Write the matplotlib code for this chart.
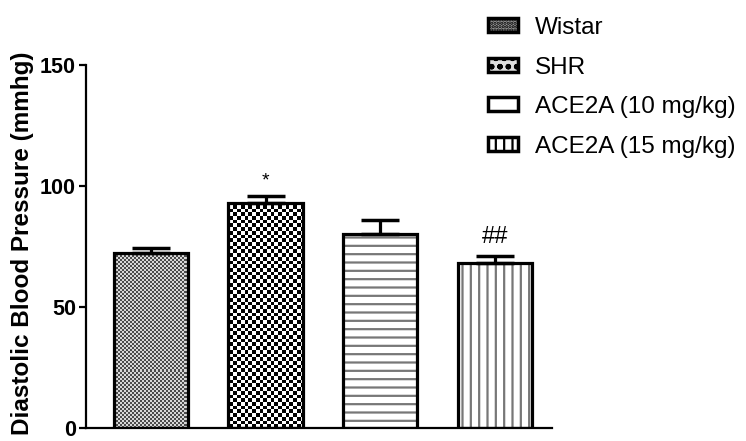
import matplotlib
matplotlib.use("Agg")
import matplotlib.pyplot as plt
import matplotlib.patches as mpatches
import numpy as np

plt.rcParams['font.family'] = ['Liberation Sans', 'DejaVu Sans']
plt.rcParams['hatch.linewidth'] = 1.6

groups = ["Wistar", "SHR", "ACE2A (10 mg/kg)", "ACE2A (15 mg/kg)"]
means = [72.3, 93.0, 80.2, 68.2]
errs = [2.1, 2.9, 5.8, 2.8]
marks = ["", "*", "", "##"]


def checker(nx, ny, c1, c2):
    a = (np.add.outer(np.arange(ny), np.arange(nx)) % 2).astype(float)
    img = np.zeros((ny, nx, 3))
    img[a == 0] = c1
    img[a == 1] = c2
    return img


fig = plt.figure(figsize=(7.46, 4.41), dpi=100)
ax = fig.add_axes([0.115, 0.0295, 0.625, 0.8235])

x = np.arange(len(groups))
bars = ax.bar(x, means, width=0.65, facecolor="none", edgecolor="black",
              linewidth=2.3, zorder=3)

# fill patterns: fine grey checker, coarse black checker, horizontal, vertical lines
fine = checker(233, 181, (0.3, 0.3, 0.3), (0.85, 0.85, 0.85))
coarse = checker(126, 98, (0.0, 0.0, 0.0), (1.0, 1.0, 1.0))
for b, img in [(bars[0], fine), (bars[1], coarse)]:
    im = ax.imshow(img, extent=(0, 1, 0, 1), transform=ax.transAxes,
                   aspect="auto", interpolation="nearest", zorder=2)
    im.set_clip_path(b)

hatches = ["", "", "--", "||"]
for xi, m, h in zip(x, means, hatches):
    if h:
        ax.bar(xi, m, width=0.65, facecolor="white", edgecolor="#777777",
               hatch=h, linewidth=0, zorder=2)

ax.errorbar(x, means, yerr=[np.zeros(len(errs)), errs], fmt="none",
            ecolor="black", elinewidth=2.3, capsize=13.5, capthick=2.5, zorder=4)

for xi, m, e, t in zip(x, means, errs, marks):
    if t == "*":
        ax.text(xi, m + e + 6, t, ha="center", va="center", fontsize=14)
    elif t:
        ax.text(xi, m + e + 8, t, ha="center", va="center", fontsize=17)

ax.set_xlim(-0.57, 3.5)
ax.set_ylim(0, 150)
ax.set_yticks([0, 50, 100, 150])
ax.set_xticks([])
for s in ["top", "right"]:
    ax.spines[s].set_visible(False)
for s in ["left", "bottom"]:
    ax.spines[s].set_linewidth(1.6)
ax.tick_params(axis="y", length=5, width=1.6, labelsize=15.5, pad=2)
for lab in ax.get_yticklabels():
    lab.set_fontweight("bold")
ax.set_ylabel("Diastolic Blood Pressure (mmhg)", fontsize=17.5,
              fontweight="bold")
ax.yaxis.set_label_coords(-0.112, 0.508)

handles = [
    mpatches.Patch(facecolor="#999999", edgecolor="black", linewidth=2.5, hatch="....."),
    mpatches.Patch(facecolor="#dddddd", edgecolor="black", linewidth=2.5, hatch="oo"),
    mpatches.Patch(facecolor="white", edgecolor="black", linewidth=2.5),
    mpatches.Patch(facecolor="white", edgecolor="black", linewidth=2.5, hatch="||"),
]
fig.legend(handles, groups, loc="upper left", bbox_to_anchor=(0.632, 1.0),
           frameon=False, fontsize=17.5, handlelength=1.2, handleheight=0.5,
           handletextpad=0.7, labelspacing=0.72, borderaxespad=0.3)

fig.savefig("out.png", dpi=100)
